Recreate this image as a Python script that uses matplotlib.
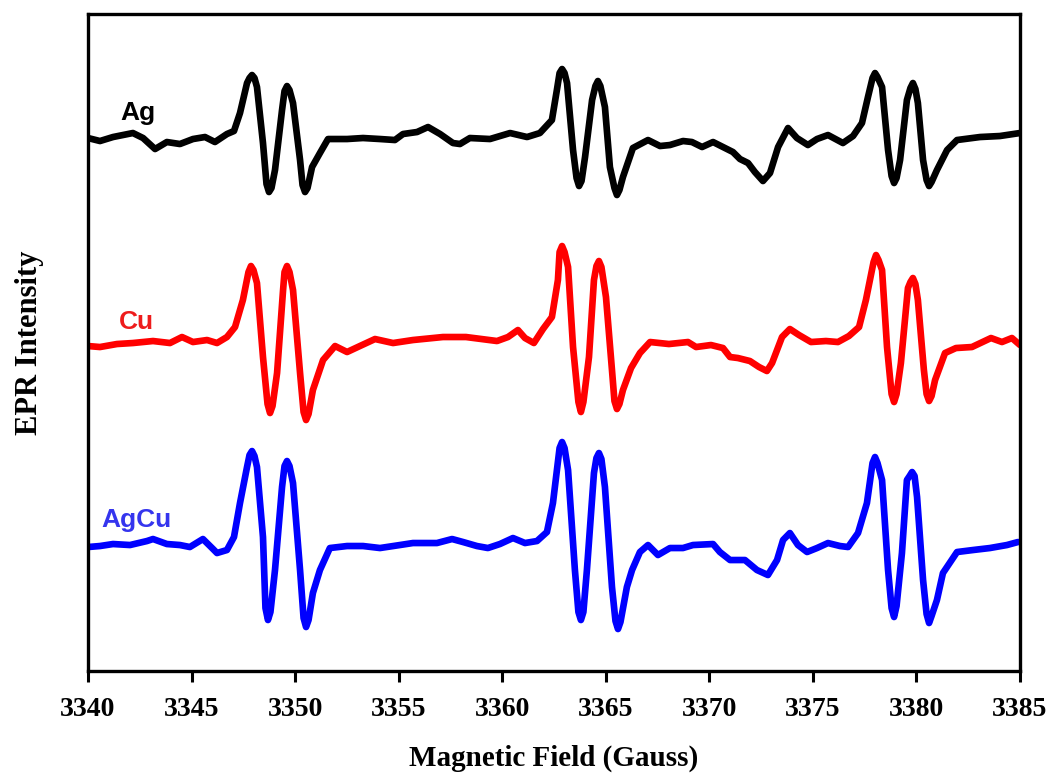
import matplotlib
matplotlib.use("Agg")
import matplotlib.pyplot as plt
import numpy as np

# EPR spectra (field in Gauss, derivative intensity in a.u. relative to each baseline)
field_ag = [3340.00, 3340.58, 3341.21, 3342.17, 3342.66, 3343.24, 3343.81, 3344.44, 3345.07, 3345.65,
            3346.13, 3346.71, 3347.05, 3347.34, 3347.68, 3347.92, 3348.16, 3348.45, 3348.74, 3349.03,
            3349.37, 3349.61, 3349.90, 3350.24, 3350.48, 3350.82, 3351.20, 3351.59, 3352.51, 3353.28,
            3354.10, 3354.82, 3355.21, 3355.89, 3356.42, 3357.00, 3357.62, 3357.96, 3358.44, 3359.41,
            3360.38, 3361.20, 3361.82, 3362.40, 3362.64, 3362.89, 3363.13, 3363.42, 3363.71, 3364.00,
            3364.34, 3364.62, 3364.96, 3365.20, 3365.54, 3365.83, 3366.31, 3367.04, 3367.62, 3368.10,
            3368.73, 3369.16, 3369.65, 3370.18, 3370.66, 3371.14, 3371.48, 3371.87, 3372.20, 3372.59,
            3372.93, 3373.32, 3373.80, 3374.23, 3374.76, 3375.20, 3375.73, 3376.45, 3376.94, 3377.37,
            3377.66, 3378.00, 3378.34, 3378.63, 3378.92, 3379.21, 3379.54, 3379.83, 3380.07, 3380.32,
            3380.61, 3380.99, 3381.48, 3381.96, 3383.07, 3384.03, 3385.00]
signal_ag = [0, -3, 1, 5, 0, -11, -4, -6, -1, 1,
             -4, 4, 7, 25, 55, 63, 51, -5, -54, -32,
             28, 52, 35, -22, -54, -29, -15, -1, -1, 0,
             -1, -2, 4, 6, 11, 4, -5, -6, 0, -1,
             5, 1, 5, 18, 48, 69, 55, -12, -48, -19,
             38, 57, 31, -29, -57, -39, -10, -2, -8, -7,
             -3, -4, -9, -4, -9, -14, -21, -25, -34, -43,
             -35, -9, 10, 0, -7, -1, 3, -5, 2, 15,
             41, 65, 51, -12, -45, -22, 38, 55, 35, -22,
             -48, -32, -12, -2, 1, 2, 5]
# points on the rounded tips of the lines
tips_field_ag = [3347.80, 3348.04, 3348.62, 3348.86, 3349.49, 3349.73, 3350.36, 3350.60,
                 3362.77, 3363.01, 3363.59, 3363.83, 3364.50, 3364.74, 3365.42, 3365.66,
                 3377.88, 3378.12, 3378.80, 3379.04, 3379.71, 3379.95, 3380.49, 3380.73]
tips_signal_ag = [60, 60, -46, -50, 47, 48, -47, -50,
                  65, 65, -40, -43, 52, 52, -50, -52,
                  60, 61, -38, -40, 50, 49, -42, -44]

field_cu = [3340.00, 3340.58, 3341.40, 3342.17, 3343.14, 3343.96, 3344.54, 3345.07, 3345.75, 3346.23,
            3346.71, 3347.10, 3347.48, 3347.87, 3348.16, 3348.45, 3348.79, 3349.13, 3349.42, 3349.61,
            3349.90, 3350.24, 3350.53, 3350.86, 3351.35, 3351.93, 3352.51, 3353.13, 3353.86, 3354.73,
            3355.69, 3357.14, 3358.25, 3359.75, 3360.28, 3360.76, 3361.10, 3361.53, 3361.97, 3362.40,
            3362.69, 3362.89, 3363.18, 3363.42, 3363.80, 3364.19, 3364.43, 3364.67, 3365.01, 3365.30,
            3365.54, 3365.83, 3366.22, 3366.65, 3367.14, 3368.05, 3368.97, 3369.36, 3370.08, 3370.66,
            3371.00, 3371.38, 3371.96, 3372.40, 3372.78, 3373.03, 3373.51, 3373.89, 3374.33, 3374.91,
            3375.63, 3376.21, 3376.74, 3377.23, 3377.56, 3378.05, 3378.34, 3378.58, 3378.92, 3379.25,
            3379.59, 3379.83, 3380.07, 3380.36, 3380.61, 3380.90, 3381.38, 3381.91, 3382.68, 3383.60,
            3384.13, 3384.61, 3385.00]
signal_cu = [-2, -3, 0, 1, 3, 1, 7, 2, 4, 1,
             7, 17, 44, 78, 61, -13, -69, -29, 54, 78,
             54, -29, -76, -46, -16, -2, -8, -2, 5, 1,
             4, 7, 7, 3, 7, 14, 6, 1, 15, 27,
             64, 98, 77, -3, -68, -13, 64, 83, 47, -26,
             -65, -46, -24, -9, 2, 0, 2, -3, -1, -4,
             -13, -14, -17, -23, -27, -19, 7, 15, 9, 2,
             3, 2, 8, 17, 44, 89, 74, -3, -58, -19,
             56, 66, 44, -26, -57, -36, -9, -4, -3, 6,
             2, 6, -1]
tips_field_cu = [3347.75, 3347.99, 3348.67, 3348.91, 3349.49, 3349.73, 3350.41, 3350.65,
                 3362.77, 3363.01, 3363.68, 3363.92, 3364.55, 3364.79, 3365.42, 3365.66,
                 3377.93, 3378.17, 3378.80, 3379.04, 3379.71, 3379.95, 3380.49, 3380.73]
tips_signal_cu = [72, 74, -60, -62, 72, 72, -68, -70,
                  92, 92, -58, -58, 78, 77, -57, -60,
                  82, 84, -50, -50, 62, 60, -50, -52]

field_agcu = [3340.00, 3340.58, 3341.21, 3342.03, 3342.85, 3343.14, 3343.81, 3344.44, 3344.92, 3345.55,
              3345.99, 3346.23, 3346.71, 3347.05, 3347.34, 3347.68, 3347.92, 3348.16, 3348.45, 3348.69,
              3349.03, 3349.37, 3349.61, 3349.90, 3350.24, 3350.53, 3350.86, 3351.20, 3351.68, 3352.51,
              3353.28, 3354.10, 3355.06, 3355.69, 3356.85, 3357.58, 3358.11, 3358.78, 3359.31, 3359.89,
              3360.52, 3361.10, 3361.68, 3362.16, 3362.45, 3362.89, 3363.18, 3363.51, 3363.80, 3364.09,
              3364.43, 3364.67, 3364.96, 3365.30, 3365.59, 3366.02, 3366.27, 3366.65, 3367.04, 3367.52,
              3368.10, 3368.73, 3369.21, 3370.18, 3370.51, 3371.00, 3371.72, 3372.30, 3372.83, 3373.27,
              3373.56, 3373.89, 3374.28, 3374.72, 3375.20, 3375.73, 3376.31, 3376.70, 3377.18, 3377.61,
              3378.00, 3378.34, 3378.63, 3378.92, 3379.30, 3379.54, 3379.79, 3380.03, 3380.32, 3380.61,
              3380.99, 3381.28, 3381.96, 3382.73, 3383.55, 3384.37, 3384.90]
signal_agcu = [-1, 0, 2, 1, 5, 7, 2, 1, -1, 7,
               -2, -7, -4, 9, 43, 79, 95, 79, 9, -74,
               -24, 59, 85, 63, -24, -81, -47, -24, -2, 0,
               0, -2, 1, 3, 3, 7, 4, 0, -2, 2,
               8, 3, 5, 14, 43, 104, 76, -24, -74, -24,
               73, 93, 59, -41, -83, -41, -24, -6, 1, -9,
               -2, -2, 1, 2, -6, -14, -14, -24, -29, -14,
               6, 13, 1, -6, -2, 3, 0, -1, 13, 43,
               89, 66, -24, -71, -7, 66, 74, 49, -34, -77,
               -54, -27, -6, -4, -2, 1, 4]
tips_field_agcu = [3347.80, 3348.04, 3348.57, 3348.81, 3349.49, 3349.73, 3350.41, 3350.65,
                   3362.77, 3363.01, 3363.68, 3363.92, 3364.55, 3364.79, 3365.47, 3365.71,
                   3377.88, 3378.12, 3378.80, 3379.04, 3379.67, 3379.91, 3380.49, 3380.73]
tips_signal_agcu = [91, 90, -62, -66, 80, 80, -72, -74,
                    98, 98, -66, -66, 88, 87, -75, -76,
                    83, 83, -62, -60, 70, 70, -68, -70]

labels = ["Ag", "Cu", "AgCu"]
x_ticks = [3340, 3345, 3350, 3355, 3360, 3365, 3370, 3375, 3380, 3385]

# vertical stacking of the three spectra
offsets = [533, 327, 125]
line_colors = ["black", "#ff0000", "#0000ff"]
text_colors = ["black", "#ee1c1c", "#3535ee"]
label_pos = [(3341.55, 551), (3341.50, 342), (3340.63, 144)]


def merged(fx, sy, tx, ty):
    x = np.concatenate([fx, tx])
    y = np.concatenate([sy, ty])
    order = np.argsort(x)
    return x[order], y[order]


series = [merged(field_ag, signal_ag, tips_field_ag, tips_signal_ag),
          merged(field_cu, signal_cu, tips_field_cu, tips_signal_cu),
          merged(field_agcu, signal_agcu, tips_field_agcu, tips_signal_agcu)]

fig = plt.figure(figsize=(10.51, 7.79), dpi=100)
ax = fig.add_axes([0.0837, 0.1386, 0.8868, 0.8434])

for (fx, sy), off, col in zip(series, offsets, line_colors):
    ax.plot(fx, sy + off, color=col, lw=4.8,
            solid_joinstyle="round", solid_capstyle="round")

for lab, (tx, ty), col in zip(labels, label_pos, text_colors):
    ax.text(tx, ty, lab, color=col, fontsize=19, fontweight="bold",
            family="Liberation Sans", ha="left", va="baseline")

ax.set_xlim(3340, 3385)
ax.set_ylim(0, 657)
ax.set_xticks(x_ticks)
ax.set_xticklabels([str(t) for t in x_ticks], family="Liberation Serif",
                   fontweight="bold", fontsize=20)
ax.set_yticks([])
ax.tick_params(axis="x", direction="out", length=8, width=2.2, pad=11)
for sp in ax.spines.values():
    sp.set_linewidth(2.4)

ax.set_xlabel("Magnetic Field (Gauss)", family="Liberation Serif",
              fontweight="bold", fontsize=21, labelpad=16)
ax.set_ylabel("EPR Intensity", family="Liberation Serif",
              fontweight="bold", fontsize=22, labelpad=32)

fig.savefig("out.png", dpi=100)
